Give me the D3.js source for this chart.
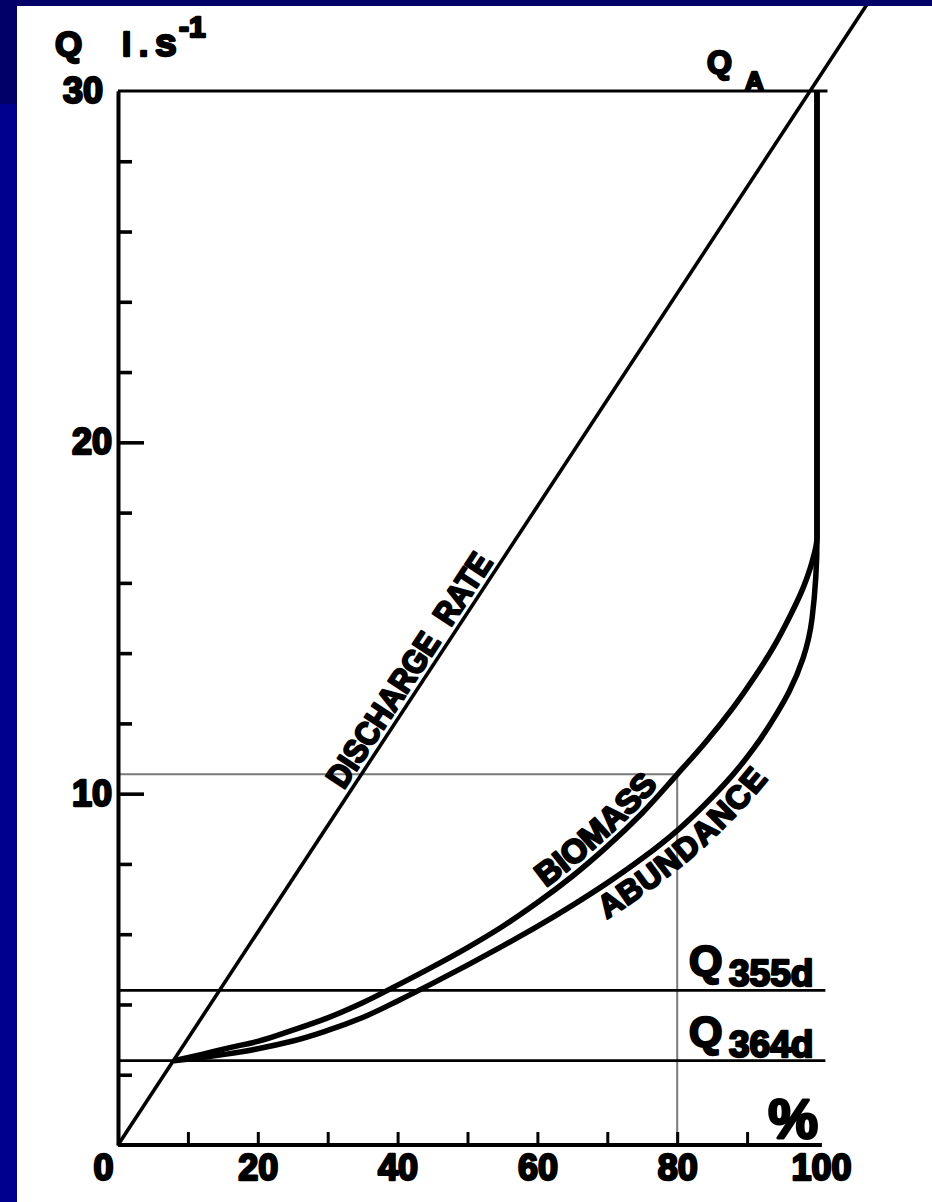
<!DOCTYPE html>
<html>
<head>
<meta charset="utf-8">
<script src="https://cdn.jsdelivr.net/npm/d3@7"></script>
<style>
  html, body { margin: 0; padding: 0; background: #ffffff; }
  svg { display: block; }
</style>
</head>
<body>
<svg id="chart" width="932" height="1202"></svg>
<script>
// ---------------- data ----------------
// Discharge rate line (x = % of time, Q in l/s)
const dischargePct = [0, 110];
const dischargeQ   = [0, 33.33];

// Biomass curve
const biomassPct = [8, 12, 16, 20, 25, 30, 35, 40, 45, 50, 55, 60, 65, 70, 75, 80, 84, 88, 91, 94, 96, 98, 99.3, 100, 100];
const biomassQ   = [2.4, 2.58, 2.77, 2.95, 3.27, 3.62, 4.05, 4.55, 5.07, 5.62, 6.22, 6.9, 7.65, 8.5, 9.45, 10.55, 11.45, 12.45, 13.3, 14.25, 15.0, 15.85, 16.6, 17.3, 30];

// Abundance curve
const abundancePct = [8, 12, 16, 20, 25, 30, 35, 40, 45, 50, 55, 60, 65, 70, 75, 80, 84, 88, 91, 94, 96, 98, 99.3, 100, 100];
const abundanceQ   = [2.4, 2.49, 2.6, 2.74, 2.96, 3.26, 3.63, 4.1, 4.6, 5.12, 5.66, 6.22, 6.82, 7.46, 8.16, 8.95, 9.7, 10.55, 11.3, 12.2, 12.9, 13.85, 15.0, 17.3, 30];

// Reference discharge levels
const refLevels = [30, 4.4, 2.4];
const refSubs   = ["A", "355d", "364d"];

// Guide (grey) lines: 80 % of time / Q = 10.55
const guidePct = [0, 80, 80];
const guideQ   = [10.55, 10.55, 0];

// Axis ticks
const xMinorTicks = [10, 20, 30, 40, 50, 60, 70, 80, 90];
const xTickLabels = [0, 20, 40, 60, 80, 100];
const yMinorTicks = [2, 4, 6, 8, 12, 14, 16, 18, 22, 24, 26, 28];
const yMajorTicks = [10, 20, 30];

// ---------------- drawing ----------------
const FONT = "'Liberation Sans', Arial, 'DejaVu Sans', sans-serif";
const svg = d3.select("#chart");
svg.append("rect").attr("width", 932).attr("height", 1202).attr("fill", "#ffffff");

const x = d3.scaleLinear().domain([0, 100]).range([118, 817]);
const y = d3.scaleLinear().domain([0, 30]).range([1145, 91]);

const zip = (a, b) => a.map((v, i) => [v, b[i]]);
const heavy = (sel, w) => sel.attr("fill", "#000").attr("stroke", "#000").attr("stroke-width", w).attr("stroke-linejoin", "round");

// grey guide lines
svg.append("path")
  .attr("d", d3.line().x(d => x(d[0])).y(d => y(d[1]))(zip(guidePct, guideQ)))
  .attr("fill", "none").attr("stroke", "#7a7a7a").attr("stroke-width", 2);

// reference horizontal lines
svg.selectAll("line.ref").data(refLevels).enter().append("line")
  .attr("class", "ref")
  .attr("x1", x(0)).attr("x2", (d, i) => i === 0 ? x(101.5) : x(101.2))
  .attr("y1", d => y(d)).attr("y2", d => y(d))
  .attr("stroke", "#000").attr("stroke-width", 2.8);

// curves
const curveLine = d3.line().x(d => x(d[0])).y(d => y(d[1])).curve(d3.curveMonotoneY);
const bioPath = svg.append("path").attr("id", "biomass-path")
  .attr("d", curveLine(zip(biomassPct, biomassQ)))
  .attr("fill", "none").attr("stroke", "#000").attr("stroke-width", 5.5).attr("stroke-linejoin", "round");
const abPath = svg.append("path").attr("id", "abundance-path")
  .attr("d", curveLine(zip(abundancePct, abundanceQ)))
  .attr("fill", "none").attr("stroke", "#000").attr("stroke-width", 5.5).attr("stroke-linejoin", "round");

// discharge rate line
svg.append("path")
  .attr("d", d3.line().x(d => x(d[0])).y(d => y(d[1]))(zip(dischargePct, dischargeQ)))
  .attr("fill", "none").attr("stroke", "#000").attr("stroke-width", 3.6);

// y axis
const yMinor = d3.axisLeft(y).tickValues(yMinorTicks).tickSizeInner(-14).tickSizeOuter(0).tickFormat("");
const gyMinor = svg.append("g").attr("transform", `translate(${x(0)},0)`).call(yMinor);
gyMinor.select(".domain").attr("stroke-width", 3.6);
gyMinor.selectAll(".tick line").attr("stroke-width", 3.6);

const yMajor = d3.axisLeft(y).tickValues(yMajorTicks).tickSizeInner(-26).tickSizeOuter(0).tickPadding(6).tickFormat(d3.format("d"));
const gyMajor = svg.append("g").attr("transform", `translate(${x(0)},0)`).call(yMajor);
gyMajor.attr("font-family", FONT).attr("font-size", 36).attr("font-weight", "bold");
gyMajor.select(".domain").attr("stroke-width", 3.6);
gyMajor.selectAll(".tick line").attr("stroke-width", 3.6).attr("opacity", d => d === 30 ? 0 : 1);
heavy(gyMajor.selectAll(".tick text"), 2.4).attr("dx", d => d === 30 ? -9 : 0);

// x axis
const xMinor = d3.axisBottom(x).tickValues(xMinorTicks).tickSizeInner(-13).tickSizeOuter(0).tickFormat("");
const gxMinor = svg.append("g").attr("transform", `translate(0,${y(0)})`).call(xMinor);
gxMinor.select(".domain").attr("d", `M${x(0)},0H${x(100.7)}`).attr("stroke-width", 4);
gxMinor.selectAll(".tick line").attr("stroke-width", 3);

const xLab = d3.axisBottom(x).tickValues(xTickLabels).tickSize(0).tickPadding(9).tickFormat(d3.format("d"));
const gxLab = svg.append("g").attr("transform", `translate(0,${y(0)})`).call(xLab);
gxLab.select(".domain").remove();
gxLab.attr("font-family", FONT).attr("font-size", 36).attr("font-weight", "bold");
heavy(gxLab.selectAll(".tick text"), 2.4).attr("dx", d => d === 0 ? -15 : (d === 100 ? 4 : 0));

// axis titles
const yTitle = heavy(svg.append("text").attr("font-family", FONT).attr("font-weight", "bold"), 2.4);
yTitle.append("tspan").attr("x", 55).attr("y", 56).attr("font-size", 35).text("Q");
yTitle.append("tspan").attr("x", 122).attr("y", 56).attr("font-size", 33).text("l");
yTitle.append("tspan").attr("x", 139).attr("y", 56).attr("font-size", 33).text(".");
yTitle.append("tspan").attr("x", 155).attr("y", 56).attr("font-size", 39).text("s");
yTitle.append("tspan").attr("x", 179).attr("y", 37).attr("font-size", 30).text("-1");

heavy(svg.append("text").attr("x", x(100) + 1).attr("y", y(0) - 7)
  .attr("text-anchor", "end").attr("font-family", FONT).attr("font-weight", "bold")
  .attr("font-size", 56), 2.8).text("%");

// reference level labels
refLevels.forEach((q, i) => {
  const t = heavy(svg.append("text").attr("font-family", FONT).attr("font-weight", "bold"), 2.4);
  if (i === 0) {
    t.append("tspan").attr("x", 707).attr("y", y(q) - 18).attr("font-size", 32).text("Q");
    t.append("tspan").attr("x", 745).attr("y", y(q) - 1).attr("font-size", 26).text(refSubs[i]);
  } else {
    t.append("tspan").attr("x", 689).attr("y", y(q) - 15).attr("font-size", 43).text("Q");
    t.append("tspan").attr("x", 729).attr("y", y(q) - 4).attr("font-size", 37).text(refSubs[i]);
  }
});

// DISCHARGE RATE label along the line
const dSlope = (dischargeQ[1] - dischargeQ[0]) / (dischargePct[1] - dischargePct[0]);
const startQ = 10;
const sx = x(startQ / dSlope), sy = y(startQ);
const ang = Math.atan2(y(dischargeQ[1]) - y(dischargeQ[0]), x(dischargePct[1]) - x(dischargePct[0])) * 180 / Math.PI;
heavy(svg.append("text")
  .attr("transform", `translate(${sx},${sy}) rotate(${ang})`)
  .attr("x", 0).attr("y", -6)
  .attr("font-family", FONT).attr("font-weight", "bold").attr("font-size", 33)
  .attr("textLength", 273).attr("lengthAdjust", "spacingAndGlyphs"), 2.2)
  .text("DISCHARGE\u00A0\u00A0RATE");

// curve labels on text paths
function lengthAtX(node, targetX) {
  let lo = 0, hi = node.getTotalLength();
  for (let i = 0; i < 40; i++) {
    const mid = (lo + hi) / 2;
    if (node.getPointAtLength(mid).x < targetX) lo = mid; else hi = mid;
  }
  return lo;
}
const bioOff = lengthAtX(bioPath.node(), 550);
heavy(svg.append("text").attr("font-family", FONT).attr("font-weight", "bold").attr("font-size", 33), 2.2)
  .append("textPath").attr("href", "#biomass-path").attr("startOffset", bioOff)
  .append("tspan").attr("dy", -7).text("BIOMASS");

const abOff = lengthAtX(abPath.node(), 590);
heavy(svg.append("text").attr("font-family", FONT).attr("font-weight", "bold").attr("font-size", 32), 2.2)
  .append("textPath").attr("href", "#abundance-path").attr("startOffset", abOff)
  .append("tspan").attr("dy", 30).text("ABUNDANCE");

// slide background edges
svg.append("rect").attr("x", 0).attr("y", 0).attr("width", 932).attr("height", 6).attr("fill", "#000068");
svg.append("rect").attr("x", 0).attr("y", 0).attr("width", 17).attr("height", 104).attr("fill", "#000068");
svg.append("rect").attr("x", 0).attr("y", 104).attr("width", 17).attr("height", 1098).attr("fill", "#00008e");
</script>
</body>
</html>
